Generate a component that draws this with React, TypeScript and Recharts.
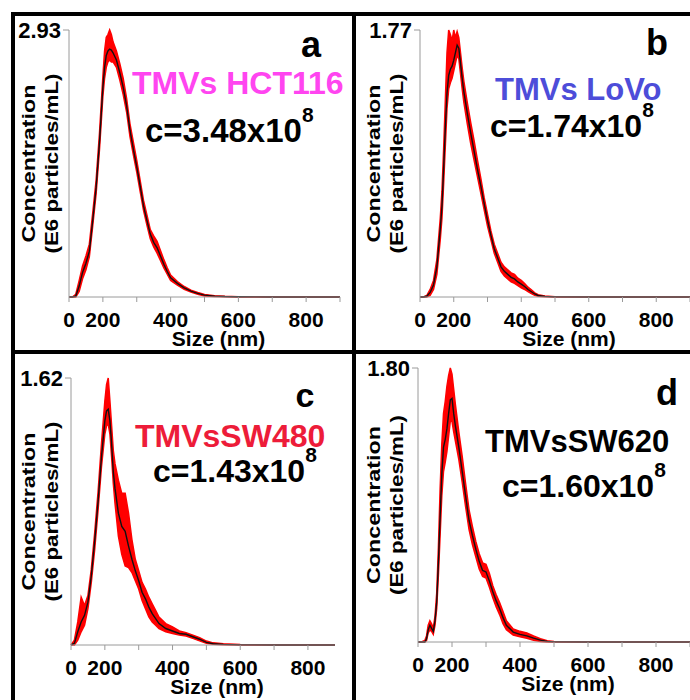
import React from 'react';
import { ComposedChart, Area, Line, XAxis, YAxis } from 'recharts';

// particle size (nm) vs concentration (E6 particles/mL), mean line and red error band
const sizesA = [100, 110, 120, 130, 140, 150, 160, 170, 180, 190, 200, 205, 210, 215, 220, 225, 230, 240, 250, 260, 270, 280, 290, 300, 310, 320, 330, 340, 350, 360, 370, 380, 390, 400, 420, 440, 460, 480, 500, 530, 560, 600, 700, 800, 900];
const meanA = [0, 0, 0.01, 0.12, 0.27, 0.37, 0.5, 0.84, 1.2, 1.7, 2.3, 2.52, 2.65, 2.7, 2.72, 2.71, 2.68, 2.6, 2.46, 2.3, 2.1, 1.83, 1.62, 1.43, 1.22, 1.0, 0.84, 0.69, 0.6, 0.54, 0.45, 0.36, 0.28, 0.21, 0.15, 0.1, 0.065, 0.04, 0.02, 0.01, 0.005, 0.002, 0, 0, 0];
const lowA = [0, 0, 0, 0.06, 0.2, 0.3, 0.44, 0.78, 1.13, 1.62, 2.2, 2.4, 2.52, 2.58, 2.6, 2.58, 2.58, 2.52, 2.38, 2.22, 2.03, 1.76, 1.56, 1.37, 1.16, 0.95, 0.79, 0.64, 0.55, 0.48, 0.4, 0.32, 0.25, 0.18, 0.13, 0.085, 0.055, 0.03, 0.012, 0.005, 0.002, 0, 0, 0, 0];
const highA = [0, 0, 0.03, 0.18, 0.34, 0.45, 0.58, 0.92, 1.28, 1.8, 2.42, 2.7, 2.85, 2.88, 2.93, 2.88, 2.8, 2.7, 2.56, 2.4, 2.18, 1.9, 1.7, 1.5, 1.28, 1.06, 0.9, 0.74, 0.67, 0.61, 0.51, 0.41, 0.32, 0.24, 0.17, 0.115, 0.075, 0.05, 0.028, 0.015, 0.008, 0.004, 0, 0, 0];

const sizesB = [100, 110, 120, 130, 140, 150, 160, 165, 170, 175, 180, 185, 190, 195, 200, 205, 210, 215, 220, 225, 230, 240, 250, 260, 270, 280, 290, 300, 310, 320, 330, 340, 350, 360, 370, 380, 390, 400, 410, 420, 430, 440, 450, 470, 500, 600, 700, 800, 900];
const meanB = [0, 0, 0.005, 0.03, 0.08, 0.2, 0.45, 0.6, 0.85, 1.12, 1.35, 1.47, 1.51, 1.53, 1.57, 1.62, 1.67, 1.65, 1.55, 1.45, 1.36, 1.22, 1.09, 0.97, 0.85, 0.74, 0.62, 0.51, 0.41, 0.32, 0.26, 0.2, 0.17, 0.15, 0.13, 0.12, 0.1, 0.085, 0.07, 0.05, 0.035, 0.02, 0.01, 0.004, 0.001, 0, 0, 0, 0];
const lowB = [0, 0, 0, 0.01, 0.05, 0.15, 0.38, 0.52, 0.75, 1.0, 1.25, 1.38, 1.42, 1.45, 1.5, 1.55, 1.6, 1.58, 1.48, 1.38, 1.29, 1.15, 1.02, 0.91, 0.8, 0.69, 0.58, 0.47, 0.38, 0.29, 0.23, 0.17, 0.14, 0.12, 0.1, 0.09, 0.075, 0.06, 0.05, 0.035, 0.022, 0.012, 0.005, 0.001, 0, 0, 0, 0, 0];
const highB = [0, 0, 0.01, 0.05, 0.11, 0.25, 0.52, 0.7, 0.98, 1.3, 1.62, 1.77, 1.74, 1.7, 1.77, 1.72, 1.76, 1.72, 1.62, 1.52, 1.43, 1.29, 1.16, 1.04, 0.91, 0.79, 0.66, 0.55, 0.44, 0.35, 0.29, 0.23, 0.2, 0.18, 0.16, 0.15, 0.125, 0.11, 0.09, 0.065, 0.048, 0.028, 0.015, 0.007, 0.002, 0, 0, 0, 0];

const sizesC = [100, 110, 120, 130, 140, 150, 160, 170, 180, 190, 200, 205, 210, 215, 220, 225, 230, 240, 250, 260, 270, 280, 290, 300, 310, 320, 330, 340, 350, 360, 380, 400, 420, 440, 460, 480, 500, 520, 550, 600, 700, 800, 880];
const meanC = [0, 0.01, 0.08, 0.14, 0.18, 0.26, 0.42, 0.63, 0.87, 1.14, 1.36, 1.42, 1.43, 1.36, 1.22, 1.05, 0.95, 0.8, 0.72, 0.69, 0.6, 0.52, 0.45, 0.39, 0.32, 0.28, 0.23, 0.19, 0.16, 0.13, 0.1, 0.085, 0.07, 0.065, 0.05, 0.035, 0.016, 0.008, 0.004, 0.001, 0, 0, 0];
const lowC = [0, 0, 0.03, 0.08, 0.12, 0.22, 0.38, 0.58, 0.82, 1.08, 1.28, 1.33, 1.34, 1.28, 1.14, 0.98, 0.86, 0.66, 0.55, 0.48, 0.47, 0.44, 0.39, 0.34, 0.27, 0.22, 0.17, 0.14, 0.12, 0.1, 0.08, 0.07, 0.06, 0.055, 0.04, 0.025, 0.01, 0.004, 0.001, 0, 0, 0, 0];
const highC = [0, 0.03, 0.14, 0.29, 0.24, 0.3, 0.46, 0.68, 0.93, 1.22, 1.48, 1.58, 1.62, 1.48, 1.33, 1.18, 1.1, 1.0, 0.92, 0.92, 0.8, 0.64, 0.52, 0.45, 0.38, 0.34, 0.29, 0.25, 0.21, 0.17, 0.13, 0.11, 0.085, 0.075, 0.06, 0.045, 0.024, 0.013, 0.008, 0.003, 0, 0, 0];

const sizesD = [100, 110, 120, 125, 130, 135, 140, 145, 150, 155, 160, 165, 170, 175, 180, 185, 190, 195, 200, 205, 210, 220, 230, 240, 250, 260, 270, 280, 290, 300, 310, 320, 330, 340, 350, 360, 380, 400, 420, 440, 460, 480, 500, 600, 700, 800, 900];
const meanD = [0, 0, 0, 0.02, 0.08, 0.11, 0.09, 0.07, 0.14, 0.26, 0.52, 0.82, 1.1, 1.28, 1.33, 1.4, 1.5, 1.59, 1.6, 1.5, 1.42, 1.28, 1.12, 0.96, 0.8, 0.7, 0.61, 0.53, 0.47, 0.46, 0.4, 0.33, 0.27, 0.22, 0.16, 0.11, 0.065, 0.05, 0.04, 0.025, 0.012, 0.004, 0.001, 0, 0, 0, 0];
const lowD = [0, 0, 0, 0.01, 0.06, 0.08, 0.07, 0.05, 0.11, 0.22, 0.44, 0.7, 0.96, 1.12, 1.18, 1.25, 1.35, 1.45, 1.45, 1.38, 1.32, 1.2, 1.05, 0.89, 0.74, 0.64, 0.56, 0.48, 0.43, 0.42, 0.36, 0.29, 0.23, 0.18, 0.12, 0.08, 0.045, 0.035, 0.025, 0.012, 0.004, 0, 0, 0, 0, 0, 0];
const highD = [0, 0, 0.01, 0.04, 0.11, 0.14, 0.12, 0.09, 0.17, 0.32, 0.62, 1.0, 1.3, 1.5, 1.58, 1.68, 1.75, 1.8, 1.76, 1.66, 1.56, 1.38, 1.22, 1.04, 0.87, 0.76, 0.66, 0.58, 0.52, 0.51, 0.45, 0.37, 0.31, 0.26, 0.2, 0.14, 0.085, 0.07, 0.06, 0.04, 0.022, 0.009, 0.003, 0, 0, 0, 0];

const xTicks = [100, 200, 300, 400, 500, 600, 700, 800, 900];
const xTicksC = [100, 200, 300, 400, 500, 600, 700, 800];

const FONT = '"Liberation Sans", Arial, Helvetica, sans-serif';

const buildRows = (sizes: number[], mean: number[], low: number[], high: number[]) =>
  sizes.map((s, i) => ({ size: s, mean: mean[i], band: [low[i], high[i]] }));

// first tick sits on the y axis and is labelled 0, like the source figure
const fmtX = (v: number) => (v === 100 ? '0' : v % 200 === 0 ? String(v) : '');

const YLabel = (props: any) => {
  const vb = props.viewBox;
  const cy = vb.y + vb.height / 2;
  return (
    <g fontFamily={FONT} fontWeight="bold" fontSize={19} fill="#000">
      <text transform={`translate(${vb.x + 35},${cy}) rotate(-90)`} textAnchor="middle" textLength={158} lengthAdjust="spacingAndGlyphs">
        Concentration
      </text>
      <text transform={`translate(${vb.x + 58},${cy}) rotate(-90)`} textAnchor="middle" textLength={180} lengthAdjust="spacingAndGlyphs">
        (E6 particles/mL)
      </text>
    </g>
  );
};

const makeXLabel = (dy: number) => (props: any) => {
  const vb = props.viewBox;
  return (
    <text x={vb.x + vb.width / 2 + 14} y={vb.y + dy} textAnchor="middle" fontFamily={FONT} fontWeight="bold" fontSize={21} fill="#000">
      Size (nm)
    </text>
  );
};

interface PanelProps {
  rows: { size: number; mean: number; band: number[] }[];
  yMax: number;
  xMax: number;
  ticks: number[];
  left: number;
  top: number;
  marginTop: number;
  marginRight: number;
  yWidth: number;
  xHeight: number;
  labelDy: number;
}

const Panel: React.FC<PanelProps> = ({ rows, yMax, xMax, ticks, left, top, marginTop, marginRight, yWidth, xHeight, labelDy }) => (
  <div style={{ position: 'absolute', left, top }}>
    <ComposedChart width={345} height={350} data={rows} margin={{ top: marginTop, right: marginRight, left: 0, bottom: 0 }}>
      <XAxis
        type="number"
        dataKey="size"
        domain={[100, xMax]}
        ticks={ticks}
        interval={0}
        tickFormatter={fmtX}
        height={xHeight}
        axisLine={{ stroke: '#9a9a9a' }}
        tickLine={{ stroke: '#9a9a9a' }}
        tickSize={5}
        tickMargin={10}
        tick={{ fill: '#000', fontSize: 21, fontWeight: 'bold', fontFamily: FONT }}
        label={{ content: makeXLabel(labelDy) }}
      />
      <YAxis
        type="number"
        domain={[0, yMax]}
        ticks={[yMax]}
        width={yWidth}
        tickFormatter={(v: number) => v.toFixed(2)}
        axisLine={{ stroke: '#9a9a9a' }}
        tickLine={{ stroke: '#9a9a9a' }}
        tickSize={6}
        tickMargin={2}
        tick={{ fill: '#000', fontSize: 22, fontWeight: 'bold', fontFamily: FONT }}
        label={{ content: YLabel }}
      />
      <Area type="linear" dataKey="band" stroke="#ff0000" strokeWidth={1.5} fill="#ff0000" fillOpacity={1} isAnimationActive={false} />
      <Line type="linear" dataKey="mean" stroke="#111" strokeWidth={1.4} dot={false} isAnimationActive={false} />
    </ComposedChart>
  </div>
);

const textStyle = { fontFamily: FONT, fontWeight: 'bold' as const };

export default function App() {
  return (
    <div style={{ position: 'absolute', left: 0, top: 0, width: 690, height: 700, background: '#fff', overflow: 'hidden' }}>
      <Panel rows={buildRows(sizesA, meanA, lowA, highA)} yMax={2.93} xMax={900} ticks={xTicks} left={0} top={0} marginTop={30} marginRight={5} yWidth={69} xHeight={53} labelDy={49} />
      <Panel rows={buildRows(sizesB, meanB, lowB, highB)} yMax={1.77} xMax={900} ticks={xTicks} left={345} top={0} marginTop={30} marginRight={0} yWidth={75} xHeight={53} labelDy={49} />
      <Panel rows={buildRows(sizesC, meanC, lowC, highC)} yMax={1.62} xMax={880} ticks={xTicksC} left={0} top={350} marginTop={28} marginRight={10} yWidth={71} xHeight={55} labelDy={49} />
      <Panel rows={buildRows(sizesD, meanD, lowD, highD)} yMax={1.8} xMax={900} ticks={xTicks} left={345} top={350} marginTop={18} marginRight={0} yWidth={73} xHeight={58} labelDy={49} />
      <svg width={690} height={700} style={{ position: 'absolute', left: 0, top: 0, pointerEvents: 'none' }}>
        <rect x={11} y={12} width={4} height={688} fill="#000" />
        <rect x={11} y={12} width={679} height={4} fill="#000" />
        <rect x={352} y={12} width={4} height={688} fill="#000" />
        <rect x={11} y={350} width={679} height={4} fill="#000" />
        <g {...textStyle}>
          <text x={311} y={57} fontSize={36} textAnchor="middle">a</text>
          <text x={132} y={94} fontSize={32} fill="#ff45f0">TMVs HCT116</text>
          <text x={145} y={142} fontSize={33}>c=3.48x10<tspan fontSize={21} dy={-20}>8</tspan></text>

          <text x={657} y={55} fontSize={36} textAnchor="middle">b</text>
          <text x={495} y={100} fontSize={31} fill="#4d4dd9">TMVs LoVo</text>
          <text x={490} y={137} fontSize={32}>c=1.74x10<tspan fontSize={21} dy={-20}>8</tspan></text>

          <text x={305} y={407} fontSize={34} textAnchor="middle">c</text>
          <text x={135} y={447} fontSize={32} fill="#ed1c39">TMVsSW480</text>
          <text x={153} y={482} fontSize={32}>c=1.43x10<tspan fontSize={21} dy={-20}>8</tspan></text>

          <text x={667} y={405} fontSize={36} textAnchor="middle">d</text>
          <text x={485} y={452} fontSize={31}>TMVsSW620</text>
          <text x={502} y={497} fontSize={32}>c=1.60x10<tspan fontSize={21} dy={-20}>8</tspan></text>
        </g>
      </svg>
    </div>
  );
}
